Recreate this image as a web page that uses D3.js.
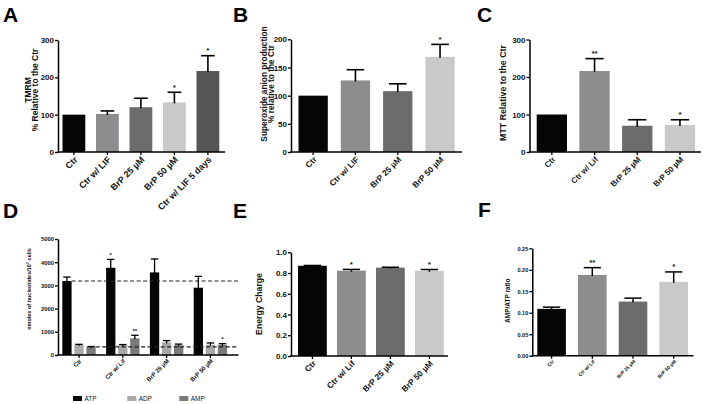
<!DOCTYPE html>
<html><head><meta charset="utf-8">
<script src="https://cdn.jsdelivr.net/npm/d3@7"></script>
<style>
html,body{margin:0;padding:0;background:#fff;}
svg{display:block;font-family:"Liberation Sans",Arial,sans-serif;}
</style></head><body>
<svg id="c" width="703" height="404"></svg>
<script>
// ---------- data ----------
const A_CATS = ["Ctr", "Ctr w/ LIF", "BrP 25 µM", "BrP 50 µM", "Ctr w/ LIF 5 days"];
const A_VALS = [100, 102, 120, 133, 217];
const A_ERRS = [0, 8, 24, 27, 41];
const A_SIG  = ["", "", "", "*", "*"];
const A_TICKS = [0, 100, 200, 300];

const B_CATS = ["Ctr", "Ctr w/ LIF", "BrP 25 µM", "BrP 50 µM"];
const B_VALS = [100, 127, 108, 169];
const B_ERRS = [0, 19, 13, 22];
const B_SIG  = ["", "", "", "*"];
const B_TICKS = [0, 50, 100, 150, 200];

const C_CATS = ["Ctr", "Ctr w/ Lif", "BrP 25 µM", "BrP 50 µM"];
const C_VALS = [100, 216, 70, 72];
const C_ERRS = [0, 33, 16, 14];
const C_SIG  = ["", "**", "", "*"];
const C_TICKS = [0, 100, 200, 300];

const D_CATS = ["Ctr", "Ctr w/ Lif", "BrP 25 µM", "BrP 50 µM"];
const D_SERIES = ["ATP", "ADP", "AMP"];
const D_ATP = [3190, 3760, 3560, 2900];
const D_ATP_ERR = [170, 360, 580, 490];
const D_ADP = [440, 420, 540, 440];
const D_ADP_ERR = [20, 30, 80, 80];
const D_AMP = [350, 720, 420, 440];
const D_AMP_ERR = [15, 130, 50, 50];
const D_ATP_SIG = ["", "*", "", ""];
const D_ADP_SIG = ["", "", "", ""];
const D_AMP_SIG = ["", "**", "", "*"];
const D_TICKS = [0, 1000, 2000, 3000, 4000, 5000];

const E_CATS = ["Ctr", "Ctr w/ Lif", "BrP 25 µM", "BrP 50 µM"];
const E_VALS = [0.87, 0.823, 0.852, 0.822];
const E_ERRS = [0.003, 0.012, 0.004, 0.012];
const E_SIG  = ["", "*", "", "*"];
const E_TICKS = [0, 0.2, 0.4, 0.6, 0.8, 1.0];

const F_CATS = ["Ctr", "Ctr w/ Lif", "BrP 25 µM", "BrP 50 µM"];
const F_VALS = [0.109, 0.188, 0.126, 0.172];
const F_ERRS = [0.004, 0.017, 0.008, 0.023];
const F_SIG  = ["", "**", "", "*"];
const F_TICKS = [0, 0.05, 0.10, 0.15, 0.20, 0.25];

// ---------- styles ----------
const COLS5 = ["#050505", "#8d8d90", "#6c6c6c", "#c9c9c9", "#565656"];
const D_COLS = {ATP: "#050505", ADP: "#a9a9a9", AMP: "#7a7a7a"};
const FONT = '"Liberation Sans",Arial,sans-serif';

const svg = d3.select("#c");

function yAxis(g, y, ax, ticks, fmt, fs) {
  const a = d3.axisLeft(y).tickValues(ticks).tickFormat(fmt).tickSize(3).tickSizeOuter(0).tickPadding(1);
  const gg = g.append("g").attr("transform", `translate(${ax},0)`).call(a);
  gg.select(".domain").attr("stroke", "#000").attr("stroke-width", 1.5);
  gg.selectAll(".tick line").attr("stroke", "#000").attr("stroke-width", 1.3);
  gg.selectAll(".tick text").attr("font-size", fs).attr("font-weight", "bold").attr("font-family", FONT).attr("fill", "#111");
}

function xAxis(g, x, ax, xEnd, y0, fs, weight, cats, dxl, dyl) {
  g.append("line").attr("x1", ax - 0.75).attr("x2", xEnd).attr("y1", y0).attr("y2", y0)
    .attr("stroke", "#000").attr("stroke-width", 1.5);
  const gx = g.append("g").attr("transform", `translate(0,${y0})`)
    .call(d3.axisBottom(x).tickSize(3).tickSizeOuter(0).tickFormat(""));
  gx.select(".domain").remove();
  gx.selectAll(".tick line").attr("stroke", "#000").attr("stroke-width", 1.3);
  g.selectAll(null).data(cats).enter().append("text")
    .attr("transform", d => `translate(${x(d) + x.bandwidth() / 2 + dxl},${y0 + dyl}) rotate(-45)`)
    .attr("text-anchor", "end").attr("dy", "0.35em")
    .attr("font-size", fs).attr("font-weight", weight).attr("font-family", FONT).attr("fill", "#111")
    .text(d => d);
}

function title(g, lines, cx, cy, fs) {
  lines.forEach((t, i) => {
    g.append("text").attr("transform", `translate(${t.x},${cy}) rotate(-90)`)
      .attr("text-anchor", "middle").attr("font-size", fs).attr("font-weight", "bold")
      .attr("font-family", FONT).attr("fill", "#111").text(t.text);
  });
}

function letter(g, t, x, y) {
  g.append("text").attr("x", x).attr("y", y).attr("font-size", 21).attr("font-weight", "bold")
    .attr("font-family", FONT).attr("fill", "#000").text(t);
}

function errBars(g, xs, y, vals, errs, sig, w, capW, starFs, sw) {
  vals.forEach((v, i) => {
    const cx = xs[i];
    const yt = y(v + errs[i]);
    if (errs[i] > 0) {
      g.append("line").attr("x1", cx).attr("x2", cx).attr("y1", y(v) + 1).attr("y2", yt)
        .attr("stroke", "#000").attr("stroke-width", sw);
      g.append("line").attr("x1", cx - capW / 2).attr("x2", cx + capW / 2).attr("y1", yt).attr("y2", yt)
        .attr("stroke", "#000").attr("stroke-width", sw);
    }
    if (sig[i]) {
      g.append("text").attr("x", cx).attr("y", yt - 1.5 + starFs * 0.45).attr("text-anchor", "middle")
        .attr("font-size", starFs).attr("font-weight", "bold").attr("font-family", FONT)
        .attr("fill", "#111").text(sig[i]).attr("dy", -starFs * 0.45 - 1);
    }
  });
}

function simplePanel(o, cats, vals, errs, sig, ticks) {
  const g = svg.append("g");
  const n = cats.length;
  const x = d3.scaleBand().domain(cats)
    .range([o.x0, o.x0 + (n - 1) * o.step + o.bw])
    .paddingInner(1 - o.bw / o.step).paddingOuter(0);
  const y = d3.scaleLinear().domain([0, o.max]).range([o.y0, o.yTop]);
  g.selectAll(null).data(cats).enter().append("rect")
    .attr("x", d => x(d)).attr("width", x.bandwidth())
    .attr("y", (d, i) => y(vals[i])).attr("height", (d, i) => y(0) - y(vals[i]))
    .attr("fill", (d, i) => COLS5[i]);
  errBars(g, cats.map(d => x(d) + x.bandwidth() / 2), y, vals, errs, sig, x.bandwidth(),
    x.bandwidth() * 0.6, o.starFs, o.esw || 1.6);
  yAxis(g, y, o.ax, ticks, o.fmt, o.tickFs);
  xAxis(g, x, o.ax, o.xEnd, o.y0, o.labFs, o.labW || "bold", cats, o.ldx || 2, o.ldy || 6);
  title(g, o.titles, 0, o.tcy, o.titleFs);
  letter(g, o.letter, o.lx, o.ly);
}

// A
simplePanel({x0: 62.5, step: 33.5, bw: 22.8, max: 300, y0: 152, yTop: 40, ax: 58, xEnd: 225,
  fmt: d3.format("d"), tickFs: 8, labFs: 9, starFs: 8,
  titles: [{text: "TMRM", x: 30.5}, {text: "% Relative to the Ctr", x: 38}], tcy: 90, titleFs: 8.5,
  letter: "A", lx: 3, ly: 22}, A_CATS, A_VALS, A_ERRS, A_SIG, A_TICKS);

// B
simplePanel({x0: 298.5, step: 42.3, bw: 29.3, max: 200, y0: 152, yTop: 39.3, ax: 291, xEnd: 462,
  fmt: d3.format("d"), tickFs: 8, labFs: 8.3, starFs: 8,
  titles: [{text: "Superoxide anion production", x: 266.5}, {text: "% relative to the Ctr", x: 274}], tcy: 84, titleFs: 8.3,
  letter: "B", lx: 233, ly: 22}, B_CATS, B_VALS, B_ERRS, B_SIG, B_TICKS);

// C
simplePanel({x0: 536.7, step: 42.7, bw: 30.3, max: 300, y0: 152, yTop: 39.5, ax: 529.5, xEnd: 701,
  fmt: d3.format("d"), tickFs: 8, labFs: 8, starFs: 8,
  titles: [{text: "MTT Relative to the Ctr", x: 505.5}], tcy: 93, titleFs: 8.8,
  letter: "C", lx: 477, ly: 22}, C_CATS, C_VALS, C_ERRS, C_SIG, C_TICKS);

// E
simplePanel({x0: 298, step: 39, bw: 28.8, max: 1.0, y0: 356, yTop: 252.3, ax: 291, xEnd: 448,
  fmt: d3.format(".1f"), tickFs: 8, labFs: 8.3, starFs: 8, esw: 1.5,
  titles: [{text: "Energy Charge", x: 261.8}], tcy: 304, titleFs: 8.7,
  letter: "E", lx: 233, ly: 218}, E_CATS, E_VALS, E_ERRS, E_SIG, E_TICKS);

// F
simplePanel({x0: 537.3, step: 40.7, bw: 28.6, max: 0.25, y0: 355.7, yTop: 248.3, ax: 532.3, xEnd: 693.5,
  fmt: d3.format(".2f"), tickFs: 5.6, labFs: 4.9, starFs: 8, esw: 1.5, ldx: 1.5, ldy: 5,
  titles: [{text: "AMP/ATP ratio", x: 509.8}], tcy: 300.7, titleFs: 6.5,
  letter: "F", lx: 478, ly: 217}, F_CATS, F_VALS, F_ERRS, F_SIG, F_TICKS);

// D (grouped)
(function () {
  const g = svg.append("g");
  const ax = 58, y0 = 355, yTop = 239, xEnd = 238.5;
  const gx0 = 62.3, gstep = 43.8, gw = 33.4;
  const x = d3.scaleBand().domain(D_CATS).range([gx0, gx0 + 3 * gstep + gw])
    .paddingInner(1 - gw / gstep).paddingOuter(0);
  const xi = d3.scaleBand().domain(D_SERIES).range([0, gw]).paddingInner(1 - 9.3 / 12.05).paddingOuter(0);
  const y = d3.scaleLinear().domain([0, 5000]).range([y0, yTop]);
  const ser = {ATP: [D_ATP, D_ATP_ERR, D_ATP_SIG], ADP: [D_ADP, D_ADP_ERR, D_ADP_SIG], AMP: [D_AMP, D_AMP_ERR, D_AMP_SIG]};
  D_SERIES.forEach(s => {
    const [vals, errs] = ser[s];
    g.selectAll(null).data(D_CATS).enter().append("rect")
      .attr("x", d => x(d) + xi(s)).attr("width", xi.bandwidth())
      .attr("y", (d, i) => y(vals[i])).attr("height", (d, i) => y0 - y(vals[i]))
      .attr("fill", D_COLS[s]);
  });
  // dashed reference lines at control ATP and AMP levels
  [["ATP", D_ATP[0]], ["AMP", D_AMP[0]]].forEach(([s, v]) => {
    g.append("line").attr("x1", x(D_CATS[0]) + xi(s) + xi.bandwidth()).attr("x2", xEnd)
      .attr("y1", y(v)).attr("y2", y(v)).attr("stroke", "#222").attr("stroke-width", 1.2)
      .attr("stroke-dasharray", "4,2.5");
  });
  D_SERIES.forEach(s => {
    const [vals, errs, sig] = ser[s];
    errBars(g, D_CATS.map(d => x(d) + xi(s) + xi.bandwidth() / 2), y, vals, errs, sig,
      xi.bandwidth(), xi.bandwidth() * 0.8, 6, 1.3);
  });
  yAxis(g, y, ax, D_TICKS, d3.format("d"), 5.8);
  xAxis(g, x, ax, xEnd, y0, 6, "bold", D_CATS, 1.5, 5);
  // title with superscript
  const t = g.append("text").attr("transform", `translate(31,289) rotate(-90)`)
    .attr("text-anchor", "middle").attr("font-size", 5.5).attr("font-weight", "bold")
    .attr("font-family", FONT).attr("fill", "#111");
  t.append("tspan").text("nmoles of nucleotides/10");
  t.append("tspan").attr("font-size", 4).attr("dy", -2).text("7");
  t.append("tspan").attr("dy", 2).text(" cells");
  letter(g, "D", 3, 218);
  // legend
  const lx = [73, 127.3, 179.3];
  D_SERIES.forEach((s, i) => {
    g.append("rect").attr("x", lx[i]).attr("y", 396).attr("width", 9).attr("height", 5).attr("fill", D_COLS[s]);
    g.append("text").attr("x", lx[i] + 11.5).attr("y", 400.8).attr("font-size", 6.4)
      .attr("font-family", FONT).attr("fill", "#111").text(s);
  });
})();
</script>
</body></html>
